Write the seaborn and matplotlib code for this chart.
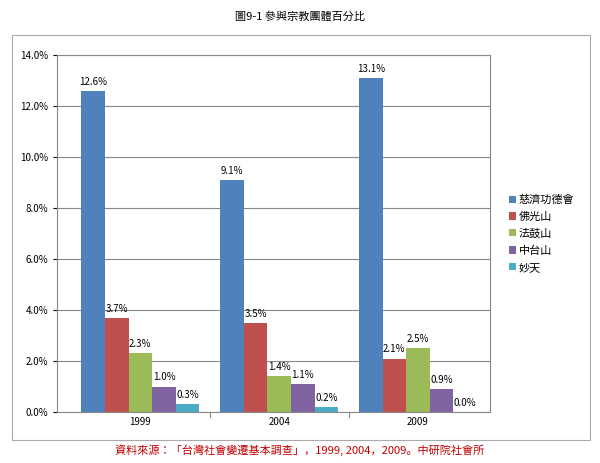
import matplotlib.pyplot as plt
import seaborn as sns
import pandas as pd
from matplotlib.patches import Rectangle

plt.rcParams['font.family'] = ['Noto Sans CJK JP', 'Noto Sans CJK TC', 'DejaVu Sans']

years = ['1999', '2004', '2009']
groups = ['慈濟功德會', '佛光山', '法鼓山', '中台山', '妙天']
values = {
    '慈濟功德會': [12.6, 9.1, 13.1],
    '佛光山': [3.7, 3.5, 2.1],
    '法鼓山': [2.3, 1.4, 2.5],
    '中台山': [1.0, 1.1, 0.9],
    '妙天': [0.3, 0.2, 0.0],
}
colors = ['#4F81BD', '#C0504D', '#9BBB59', '#8064A2', '#4BACC6']

rows = []
for g in groups:
    for y, v in zip(years, values[g]):
        rows.append({'year': y, 'group': g, 'value': v})
df = pd.DataFrame(rows)

fig = plt.figure(figsize=(6, 4.63), dpi=100)
ax = fig.add_axes([0.095, 0.11, 0.722, 0.771])
sns.barplot(data=df, x='year', y='value', hue='group', palette=colors,
            width=0.85, ax=ax, saturation=1, edgecolor='none')

for cont in ax.containers:
    ax.bar_label(cont, labels=[f'{v:.1f}%' for v in cont.datavalues],
                 fontsize=7, padding=3)

ax.set_ylim(0, 14)
ax.set_yticks([0, 2, 4, 6, 8, 10, 12, 14])
ax.set_yticklabels([f'{t:.1f}%' for t in ax.get_yticks()], fontsize=7)
ax.tick_params(axis='x', labelsize=7, length=0)
ax.tick_params(axis='y', length=3)
for b in [0.5, 1.5]:
    ax.axvline(b, ymin=0, ymax=-0.015, color='#888888', lw=0.8, clip_on=False)
ax.set_xlim(-0.6, 2.52)
ax.set_xlabel('')
ax.set_ylabel('')
ax.grid(axis='y', color='#888888', lw=0.8)
ax.set_axisbelow(True)
for s in ax.spines.values():
    s.set_color('#888888')

leg = ax.legend(loc='center left', bbox_to_anchor=(1.02, 0.5), frameon=False,
                fontsize=8, handlelength=0.6, handleheight=0.6,
                handletextpad=0.3, labelspacing=0.6)

fig.text(0.5, 0.965, '圖9-1 參與宗教團體百分比', ha='center', va='center', fontsize=8)
fig.text(0.5, 0.028, '資料來源：「台灣社會變遷基本調查」，1999, 2004，2009。中研院社會所',
         ha='center', va='center', fontsize=8, color='#C00000')
fig.patches.append(Rectangle((0.02, 0.05), 0.963, 0.875, transform=fig.transFigure,
                             fill=False, edgecolor='#AAAAAA', lw=0.8))

fig.savefig('out.png', dpi=100)
